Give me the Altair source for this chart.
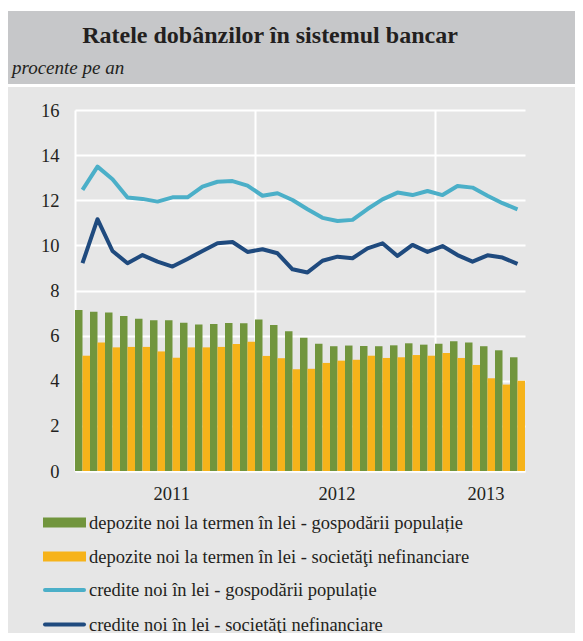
import altair as alt
import pandas as pd

# ---------------- data ----------------
series_names = [
    "depozite noi la termen în lei - gospodării populație",
    "depozite noi la termen în lei - societăţi nefinanciare",
    "credite noi în lei - gospodării populație",
    "credite noi în lei - societăţi nefinanciare",
]
series_colors = ["#71953d", "#f6b31a", "#4bafc8", "#1f4a7e"]

dep_gosp = [7.14, 7.06, 7.02, 6.87, 6.75, 6.68, 6.68, 6.57, 6.49, 6.52,
            6.56, 6.55, 6.72, 6.47, 6.19, 5.91, 5.64, 5.53, 5.56, 5.54,
            5.53, 5.57, 5.66, 5.60, 5.64, 5.75, 5.70, 5.53, 5.35, 5.04]
dep_soc = [5.11, 5.70, 5.48, 5.50, 5.50, 5.30, 5.02, 5.48, 5.48, 5.50,
           5.63, 5.73, 5.10, 5.00, 4.51, 4.53, 4.79, 4.89, 4.93, 5.11,
           5.01, 5.04, 5.14, 5.11, 5.23, 5.01, 4.70, 4.11, 3.83, 4.00]
cred_gosp = [12.46, 13.49, 12.93, 12.12, 12.06, 11.94, 12.13, 12.13, 12.60, 12.82,
             12.85, 12.65, 12.20, 12.31, 12.01, 11.60, 11.22, 11.08, 11.13, 11.61,
             12.04, 12.34, 12.23, 12.41, 12.23, 12.63, 12.56, 12.20, 11.87, 11.60]
cred_soc = [9.21, 11.16, 9.75, 9.21, 9.57, 9.28, 9.06, 9.40, 9.75, 10.09,
            10.15, 9.71, 9.83, 9.65, 8.94, 8.80, 9.32, 9.50, 9.43, 9.87,
            10.09, 9.53, 10.02, 9.71, 9.97, 9.57, 9.28, 9.56, 9.46, 9.18]

year_labels = ["2011", "2012", "2013"]
year_label_pos = [6.45, 17.47, 27.4]   # in month-slot units on the category axis
year_grid = [12, 24]
y_ticks = [0, 2, 4, 6, 8, 10, 12, 14, 16]

title_text = "Ratele dobânzilor în sistemul bancar"
subtitle_text = "procente pe an"

# ---------------- tables ----------------
n = len(dep_gosp)
bars = pd.DataFrame({
    "i": list(range(n)) * 2,
    "slot": [0] * n + [1] * n,
    "series": [series_names[0]] * n + [series_names[1]] * n,
    "value": dep_gosp + dep_soc,
})
lines = pd.DataFrame({
    "i": list(range(n)) * 2,
    "series": [series_names[2]] * n + [series_names[3]] * n,
    "value": cred_gosp + cred_soc,
})
labels_df = pd.DataFrame({"pos": year_label_pos, "label": year_labels})

FONT = "Liberation Serif"
TXT = "#231f20"
W, H = 450, 361

color_scale = alt.Scale(domain=series_names, range=series_colors)
x_scale = alt.Scale(domain=[0, n], nice=False, zero=False)
y_scale = alt.Scale(domain=[0, 16], nice=False)

x_axis = alt.Axis(values=year_grid, labels=False, ticks=False, grid=True,
                  gridColor="white", gridWidth=2, domainColor="white",
                  domainWidth=2, title=None)
y_axis = alt.Axis(values=y_ticks, grid=True, gridColor="white", gridWidth=2,
                  ticks=False, labelPadding=16, labelFont=FONT, labelFontSize=18.5,
                  labelColor=TXT, domainColor="white", domainWidth=2, title=None)

one = alt.Data(values=[{"a": 1}])

# header band
header = alt.Chart(one).mark_rect(color="#c6c7c9").encode(
    x=alt.value(-67), x2=alt.value(520), y=alt.value(-99), y2=alt.value(-26))
top_white = alt.Chart(one).mark_rect(color="white").encode(
    x=alt.value(-67), x2=alt.value(520), y=alt.value(-102), y2=alt.value(-99))
sep_white = alt.Chart(one).mark_rect(color="white").encode(
    x=alt.value(-67), x2=alt.value(520), y=alt.value(-26), y2=alt.value(-23))
title = alt.Chart(one).mark_text(
    text=title_text, font=FONT, fontSize=24, fontWeight="bold", color=TXT,
    align="center", baseline="middle").encode(x=alt.value(195), y=alt.value(-74))
subtitle = alt.Chart(one).mark_text(
    text=subtitle_text, font=FONT, fontSize=19, fontStyle="italic", color=TXT,
    align="left", baseline="middle").encode(x=alt.value(-63), y=alt.value(-42))

bar_layer = alt.Chart(bars).transform_calculate(
    xs="datum.i + 0.5*datum.slot", xe="datum.i + 0.5*datum.slot + 0.5"
).mark_rect().encode(
    x=alt.X("xs:Q", scale=x_scale, axis=x_axis),
    x2="xe:Q",
    y=alt.Y("value:Q", scale=y_scale, axis=y_axis),
    y2=alt.datum(0),
    color=alt.Color("series:N", scale=color_scale, legend=None),
)

line_layer = alt.Chart(lines).transform_calculate(
    xm="datum.i + 0.5"
).mark_line(strokeWidth=4, strokeJoin="round").encode(
    x=alt.X("xm:Q", title=None),
    y=alt.Y("value:Q", title=None),
    color=alt.Color("series:N", scale=color_scale, legend=None),
    detail="series:N",
)

year_layer = alt.Chart(labels_df).mark_text(
    font=FONT, fontSize=18.5, color=TXT, align="center", baseline="middle"
).encode(x=alt.X("pos:Q", title=None), y=alt.value(384), text="label:N")

# manual legend
legend_layers = []
row_y = [412.5, 446.5, 480, 514.5]
for k, name in enumerate(series_names):
    d = alt.Data(values=[{"series": name}])
    yk = row_y[k]
    if k < 2:
        sym = alt.Chart(d).mark_rect().encode(
            x=alt.value(-32), x2=alt.value(11),
            y=alt.value(yk - 5), y2=alt.value(yk + 5),
            color=alt.Color("series:N", scale=color_scale, legend=None))
    else:
        sym = alt.Chart(d).mark_rule(strokeWidth=4, strokeCap="round").encode(
            x=alt.value(-30), x2=alt.value(9), y=alt.value(yk),
            color=alt.Color("series:N", scale=color_scale, legend=None))
    txt = alt.Chart(d).mark_text(
        font=FONT, fontSize=18.5, color=TXT, align="left", baseline="middle"
    ).encode(x=alt.value(14), y=alt.value(yk), text="series:N")
    legend_layers += [sym, txt]

chart = alt.layer(
    top_white, header, sep_white, title, subtitle,
    bar_layer, line_layer, year_layer, *legend_layers
).properties(
    width=W, height=H,
    autosize="none",
    padding={"left": 67, "top": 102, "right": 50, "bottom": 162},
    background="#e6e6e6",
).configure_view(stroke=None)

chart.save("out.html", embed_options={"renderer": "svg", "actions": False})
